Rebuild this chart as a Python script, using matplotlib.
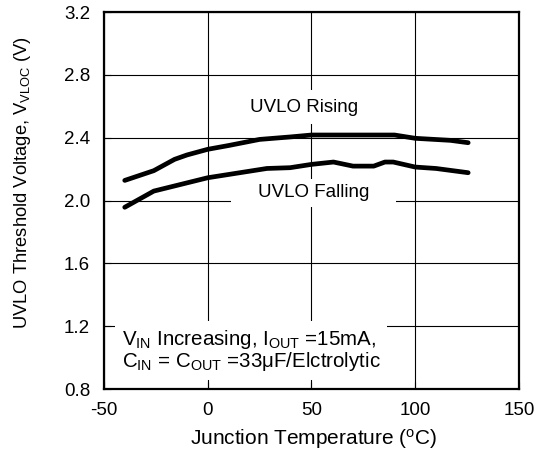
import numpy as np
import matplotlib.pyplot as plt

plt.rcParams['font.family'] = ['Liberation Sans', 'DejaVu Sans']
plt.rcParams['mathtext.fontset'] = 'custom'
plt.rcParams['mathtext.rm'] = 'Liberation Sans'
plt.rcParams['mathtext.it'] = 'Liberation Sans'
plt.rcParams['axes.unicode_minus'] = False

# UVLO rising / falling thresholds vs junction temperature
temp_rise = [-40, -26, -16, -10, 0, 10, 25, 40, 50, 70, 90, 100, 117, 125.5]
v_rise = [2.128, 2.19, 2.262, 2.29, 2.326, 2.35, 2.389, 2.405, 2.417, 2.417, 2.417, 2.396, 2.383, 2.368]

temp_fall = [-40, -26, 0, 28.5, 39.7, 50, 60.6, 70, 80, 85.4, 89.4, 100, 110, 125.5]
v_fall = [1.957, 2.06, 2.145, 2.204, 2.209, 2.23, 2.245, 2.219, 2.219, 2.245, 2.245, 2.213, 2.204, 2.177]

xticks = [-50, 0, 50, 100, 150]
yticks = [0.8, 1.2, 1.6, 2.0, 2.4, 2.8, 3.2]

fig = plt.figure(figsize=(5.45, 4.55), dpi=100)
ax = fig.add_axes([0.1908, 0.145, 0.7615, 0.8286])

ax.plot(temp_rise, v_rise, color='black', linewidth=3.4, solid_capstyle='round', zorder=3)
ax.plot(temp_fall, v_fall, color='black', linewidth=3.4, solid_capstyle='round', zorder=3)

ax.set_xlim(-50, 150)
ax.set_ylim(0.8, 3.2)
ax.set_xticks(xticks)
ax.set_yticks(yticks)
ax.set_yticklabels([f"{v:.1f}" for v in yticks])
ax.tick_params(direction='in', length=5, width=0.8, labelsize=13.5)
ax.tick_params(axis='y', pad=10)
ax.tick_params(axis='x', pad=9)
ax.grid(True, color='black', linewidth=0.8)
ax.set_axisbelow(True)
for s in ax.spines.values():
    s.set_linewidth(1.6)

ax.set_xlabel("Junction Temperature ($^{\\rm o}$C)", fontsize=15)
ax.set_ylabel("UVLO Threshold Voltage, V$_{\\rm VLOC}$ (V)", fontsize=13.2)
ax.xaxis.set_label_coords(0.506, -0.100)
ax.yaxis.set_label_coords(-0.172, 0.549)

ax.text(46.5, 2.595, "UVLO Rising", ha='center', va='center', fontsize=13.5, zorder=4,
        bbox=dict(facecolor='white', edgecolor='none', pad=6))
ax.text(51, 2.05, "    UVLO Falling    ", ha='center', va='center', fontsize=13.5, zorder=4,
        bbox=dict(facecolor='white', edgecolor='none', pad=4))
ax.text(-41.5, 1.045,
        "V$_{\\rm IN}$ Increasing, I$_{\\rm OUT}$ =15mA,\nC$_{\\rm IN}$ = C$_{\\rm OUT}$ =33\u03bcF/Elctrolytic",
        ha='left', va='center', fontsize=14.8, linespacing=0.95, zorder=4,
        bbox=dict(facecolor='white', edgecolor='none', pad=5))

fig.savefig("out.png", dpi=100)
